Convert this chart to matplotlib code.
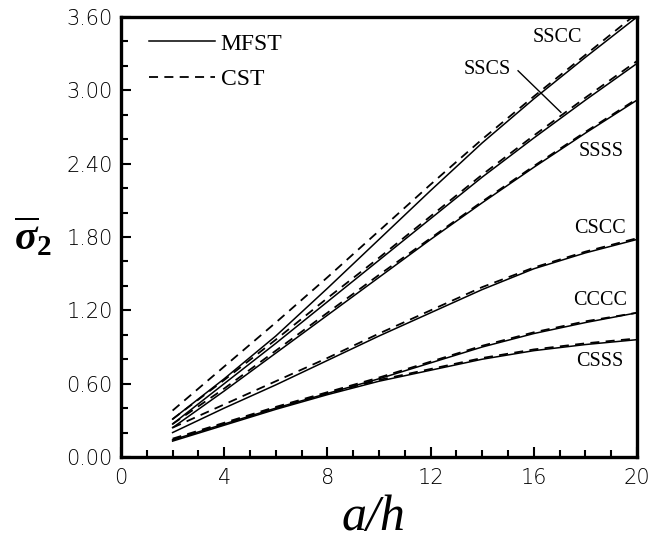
import matplotlib
matplotlib.use("Agg")
import matplotlib.pyplot as plt
from matplotlib.ticker import MultipleLocator, FormatStrFormatter

plt.rcParams['mathtext.fontset'] = 'custom'
plt.rcParams['mathtext.rm'] = 'Liberation Serif:bold'
plt.rcParams['mathtext.it'] = 'Liberation Serif:italic:bold'
plt.rcParams['mathtext.bf'] = 'Liberation Serif:bold'

a_h = [2, 4, 6, 8, 10, 12, 14, 16, 18, 20]

# MFST (solid)
mfst = {
    'SSCC': [0.31, 0.64, 0.99, 1.38, 1.78, 2.18, 2.57, 2.93, 3.27, 3.60],
    'SSCS': [0.27, 0.60, 0.93, 1.27, 1.61, 1.95, 2.29, 2.61, 2.92, 3.22],
    'SSSS': [0.24, 0.54, 0.85, 1.16, 1.47, 1.78, 2.08, 2.37, 2.65, 2.92],
    'CSCC': [0.20, 0.40, 0.59, 0.79, 0.99, 1.18, 1.37, 1.54, 1.67, 1.78],
    'CCCC': [0.14, 0.27, 0.40, 0.52, 0.64, 0.77, 0.90, 1.01, 1.10, 1.18],
    'CSSS': [0.13, 0.26, 0.39, 0.51, 0.62, 0.71, 0.80, 0.87, 0.92, 0.96],
}
# CST (dashed)
cst = {
    'SSCC': [0.38, 0.74, 1.10, 1.47, 1.85, 2.23, 2.60, 2.95, 3.29, 3.63],
    'SSCS': [0.31, 0.63, 0.96, 1.30, 1.63, 1.97, 2.31, 2.63, 2.94, 3.24],
    'SSSS': [0.27, 0.56, 0.87, 1.18, 1.49, 1.79, 2.09, 2.38, 2.66, 2.93],
    'CSCC': [0.24, 0.43, 0.62, 0.81, 1.01, 1.20, 1.39, 1.55, 1.68, 1.79],
    'CCCC': [0.15, 0.28, 0.41, 0.53, 0.65, 0.78, 0.91, 1.02, 1.11, 1.18],
    'CSSS': [0.14, 0.27, 0.40, 0.52, 0.63, 0.72, 0.81, 0.88, 0.93, 0.97],
}

labels = ['SSCC', 'SSCS', 'SSSS', 'CSCC', 'CCCC', 'CSSS']
label_pos = {
    'SSCC': (16.9, 3.43),
    'SSCS': (14.2, 3.17),
    'SSSS': (18.6, 2.50),
    'CSCC': (18.57, 1.87),
    'CCCC': (18.57, 1.28),
    'CSSS': (18.57, 0.78),
}

fig = plt.figure(figsize=(6.5, 5.42), dpi=100)
ax = fig.add_axes([121/650, 1-457/542, (637-121)/650, (457-17)/542])

for i, k in enumerate(labels):
    ax.plot(a_h, mfst[k], color='black', lw=1.1, ls='-',
            label='MFST' if i == 0 else None)
    ax.plot(a_h, cst[k], color='black', lw=1.3, dashes=(5, 3.5),
            label='CST' if i == 0 else None)

serif = 'Liberation Serif'
for k in labels:
    x, y = label_pos[k]
    ax.text(x, y, k, ha='center', va='center', fontsize=14.5, family=serif)

# leader line for SSCS
ax.plot([15.39, 17.05], [3.16, 2.82], color='black', lw=1.0)

ax.set_xlim(0, 20)
ax.set_ylim(0, 3.6)
ax.xaxis.set_major_locator(MultipleLocator(4))
ax.xaxis.set_minor_locator(MultipleLocator(1))
ax.yaxis.set_major_locator(MultipleLocator(0.6))
ax.yaxis.set_minor_locator(MultipleLocator(0.2))
ax.yaxis.set_major_formatter(FormatStrFormatter('%.2f'))
ax.xaxis.set_major_formatter(FormatStrFormatter('%d'))
ax.tick_params(which='both', direction='in', width=1.5, labelsize=15,
               colors='black')
ax.tick_params(which='major', length=7)
ax.tick_params(axis='x', which='major', pad=8)
ax.tick_params(axis='y', which='major', pad=6)
ax.tick_params(which='minor', length=5)
for lab in ax.get_xticklabels() + ax.get_yticklabels():
    lab.set_family('DejaVu Sans')
    lab.set_fontweight('light')
for s in ax.spines.values():
    s.set_linewidth(2.4)

leg = ax.legend(loc='upper left', bbox_to_anchor=(0.035, 0.985), frameon=False,
                prop={'family': serif, 'size': 17}, handlelength=2.8,
                handletextpad=0.25, labelspacing=0.6, borderaxespad=0)

fig.text(373/650, 1-518/542, 'a/h', ha='center', va='center',
         fontsize=36, family=serif, style='italic')
fig.text(33/650, 1-238/542, r'$\overline{\sigma}_{\mathbf{2}}$', ha='center',
         va='center', fontsize=30)

fig.savefig('out.png', dpi=100)
